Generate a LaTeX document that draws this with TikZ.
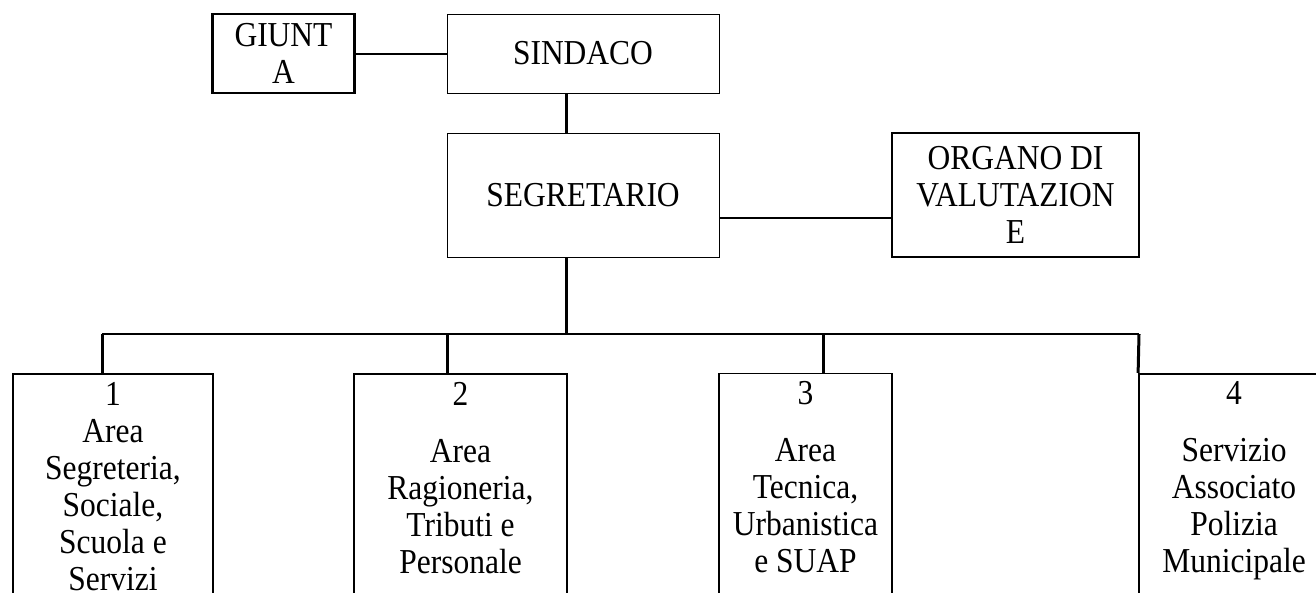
\documentclass[tikz,border=0pt]{standalone}
\usepackage{fontspec}
\setmainfont{Liberation Serif}[FakeStretch=0.9]
\tikzset{
  box/.style={draw, rectangle, align=center, inner sep=0pt, line width=1pt},
  boldbox/.style={box, line width=2.2pt},
  unit/.style={box, anchor=north, line width=1.8pt, inner ysep=8pt, text depth=260pt},
  link/.style={line width=2pt},
  stem/.style={line width=3pt}
}
\begin{document}
\begin{tikzpicture}[x=1pt,y=-1pt,font=\fontsize{35}{37}\selectfont]
        \useasboundingbox (0,0) rectangle (1316,592);
        \clip (0,0) rectangle (1316,592);

        % vertici
        \node[boldbox,minimum width=142,minimum height=79] (giunta) at (283.5,53.5) {GIUNT\\A};
        \node[box,minimum width=272,minimum height=79] (sindaco) at (583,53.5) {SINDACO};
        \node[box,minimum width=272,minimum height=124] (segr) at (583,195) {SEGRETARIO};
        \node[boldbox,minimum width=247,minimum height=124] (organo) at (1015.5,195) {ORGANO DI\\VALUTAZION\\E};

        % aree
        \node[unit,minimum width=200] (u1) at (113,373) {1\\Area\\Segreteria,\\Sociale,\\Scuola e\\Servizi};
        \node[unit,minimum width=213] (u2) at (460.5,373) {2\\[20pt]Area\\Ragioneria,\\Tributi e\\Personale};
        \node[unit,minimum width=173,line width=1.4pt] (u3) at (805.5,373) {3\\[20pt]Area\\Tecnica,\\Urbanistica\\e SUAP};
        \node[unit,minimum width=190] (u4) at (1234,373) {4\\[20pt]Servizio\\Associato\\Polizia\\Municipale};

        \coordinate (spine) at (566,334);
        \coordinate (j1) at (102,334);
        \coordinate (j2) at (447,334);
        \coordinate (j3) at (823,334);
        \coordinate (j4) at (1139,334);

        \draw[link] (giunta) -- (sindaco);
        \draw[link] ([yshift=-23pt]segr.east) -- ([yshift=-23pt]organo.west);
        \draw[stem] (spine |- sindaco.south) -- (spine |- segr.north);
        \draw[stem] (spine |- segr.south) -- (spine);
        \draw[link] (j1) -- (j4);
        \foreach \j/\u in {j1/u1,j2/u2,j3/u3}
            \draw[stem] (\j) -- (\j |- \u.north);
        \draw[stem] (j4) -- (u4.north west);

    \end{tikzpicture}
\end{document}
